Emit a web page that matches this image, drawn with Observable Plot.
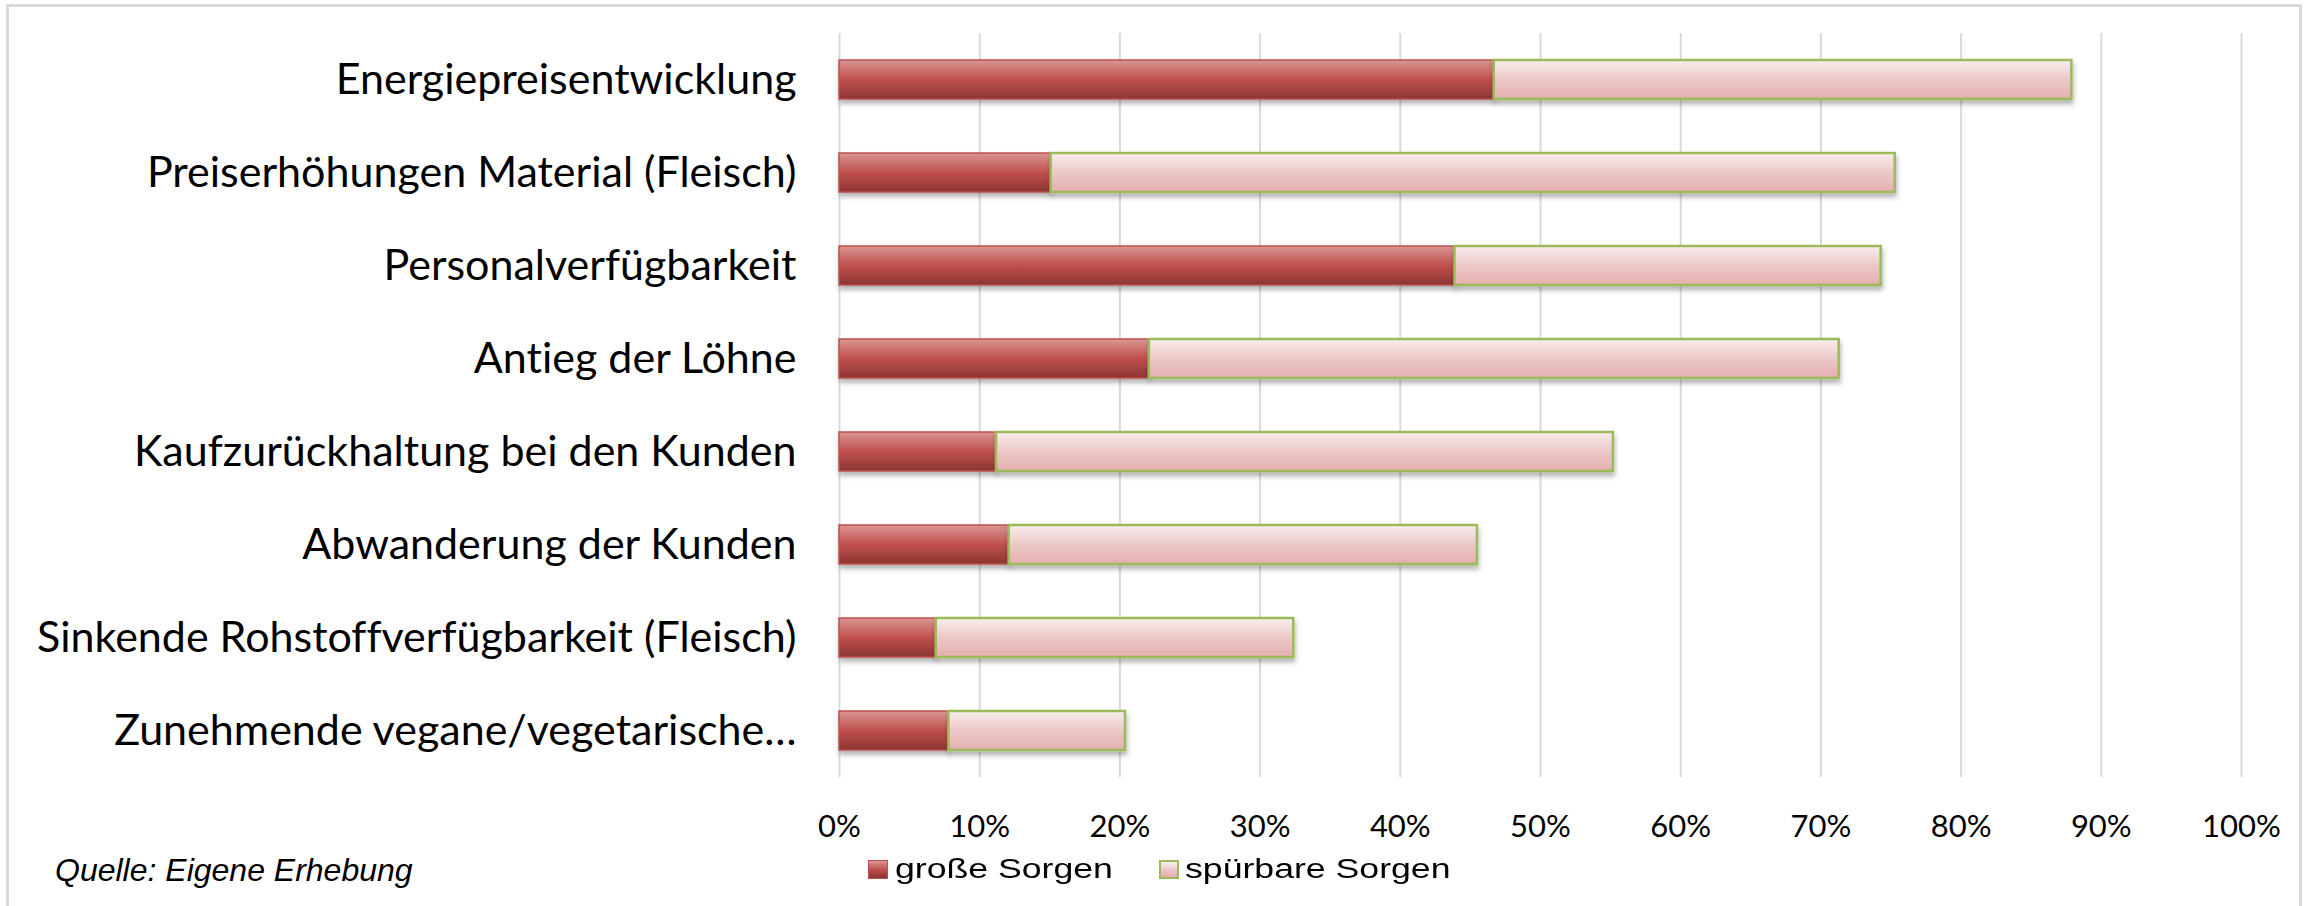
<!DOCTYPE html>
<html>
<head>
<meta charset="utf-8">
<script src="https://cdn.jsdelivr.net/npm/d3@7"></script>
<script src="https://cdn.jsdelivr.net/npm/@observablehq/plot@0.6"></script>
<style>
  body { margin: 0; background: #fff; }
  #wrap { position: relative; width: 2310px; height: 906px; overflow: hidden; background: #fff; }
  #frame { position: absolute; left: 6px; top: 4px; width: 2296px; height: 930px; border: 3px solid #d9d9d9; box-sizing: border-box; }
  #chart { position: absolute; left: 0; top: 0; }
  #chart svg { font-variant-ligatures: none; }
  .legend-item { position: absolute; top: 852px; font-family: "Liberation Sans", Arial, sans-serif; font-size: 27px; line-height: 34px; color: #000; white-space: nowrap; transform-origin: 0 50%; transform: scaleX(1.32); }
  .swatch { position: absolute; top: 860px; width: 20px; height: 19px; box-sizing: border-box; }
  #sw1 { left: 868px; background: linear-gradient(#d99694, #c0504d 50%, #8a3533); border: 1.5px solid #c0504d; }
  #sw2 { left: 1159px; background: linear-gradient(#f9eeee, #ecc8c8 50%, #e4afae); border: 2.5px solid #9bbb59; }
  #caption { position: absolute; left: 55px; top: 851px; font-family: "Liberation Sans", Arial, sans-serif; font-style: italic; font-size: 32px; line-height: 38px; color: #000; white-space: nowrap; }
</style>
</head>
<body>
<div id="wrap">
  <div id="frame"></div>
  <div id="chart"></div>
  <div class="swatch" id="sw1"></div>
  <div class="legend-item" id="lg1" style="left:895px"></div>
  <div class="swatch" id="sw2"></div>
  <div class="legend-item" id="lg2" style="left:1185px"></div>
  <div id="caption"></div>
</div>
<script>
const categories = [
  "Energiepreisentwicklung",
  "Preiserhöhungen Material (Fleisch)",
  "Personalverfügbarkeit",
  "Antieg der Löhne",
  "Kaufzurückhaltung bei den Kunden",
  "Abwanderung der Kunden",
  "Sinkende Rohstoffverfügbarkeit (Fleisch)",
  "Zunehmende vegane/vegetarische…"
];
const grosseSorgen    = [46.7, 15.1, 43.9, 22.1, 11.2, 12.1, 6.9, 7.8];
const spuerbareSorgen = [41.2, 60.2, 30.4, 49.2, 44.0, 33.4, 25.5, 12.6];
const seriesNames = ["große Sorgen", "spürbare Sorgen"];
const xTicks = [0, 10, 20, 30, 40, 50, 60, 70, 80, 90, 100];
const captionText = "Quelle: Eigene Erhebung";

const rows = categories.map((c, i) => ({cat: c, g: grosseSorgen[i], s: spuerbareSorgen[i]}));

const svg = Plot.plot({
  width: 2310,
  height: 850,
  marginLeft: 839,
  marginRight: 69,
  marginTop: 33,
  marginBottom: 73,
  style: {background: "transparent", color: "#000"},
  x: {domain: [0, 100], label: null},
  y: {domain: categories, paddingInner: 0.58, paddingOuter: 0.284, label: null},
  marks: [
    Plot.gridX(xTicks, {stroke: "#d9d9d9", strokeOpacity: 1, strokeWidth: 2}),
    Plot.barX(rows, {y: "cat", x1: 0, x2: "g", fill: "url(#gradRed)", stroke: "#c0504d", strokeWidth: 1.5}),
    Plot.barX(rows, {y: "cat", x1: "g", x2: d => d.g + d.s, fill: "url(#gradPink)", stroke: "#9bbb59", strokeWidth: 2.5}),
    Plot.axisX(xTicks, {anchor: "bottom", tickSize: 0, tickPadding: 37, tickFormat: d => d + "%", fontSize: 31, fontFamily: "Lato", label: null}),
    Plot.axisY({anchor: "left", tickSize: 0, tickPadding: 43, fontSize: 43, fontFamily: "Lato", label: null})
  ]
});

const defs = d3.select(svg).insert("defs", ":first-child");
const gr = defs.append("linearGradient").attr("id", "gradRed").attr("x1", 0).attr("y1", 0).attr("x2", 0).attr("y2", 1);
gr.append("stop").attr("offset", "0").attr("stop-color", "#d99694");
gr.append("stop").attr("offset", "0.5").attr("stop-color", "#c0504d");
gr.append("stop").attr("offset", "1").attr("stop-color", "#8a3533");
const gp = defs.append("linearGradient").attr("id", "gradPink").attr("x1", 0).attr("y1", 0).attr("x2", 0).attr("y2", 1);
gp.append("stop").attr("offset", "0").attr("stop-color", "#f9eeee");
gp.append("stop").attr("offset", "0.5").attr("stop-color", "#ecc8c8");
gp.append("stop").attr("offset", "1").attr("stop-color", "#e4afae");
const f = defs.append("filter").attr("id", "shadow").attr("x", "-5%").attr("y", "-40%").attr("width", "110%").attr("height", "200%");
f.append("feDropShadow").attr("dx", 1).attr("dy", 4).attr("stdDeviation", 2.5).attr("flood-color", "#000").attr("flood-opacity", 0.3);
d3.select(svg).selectAll('g[aria-label="bar"]').attr("filter", "url(#shadow)");

document.getElementById("chart").appendChild(svg);
document.getElementById("lg1").textContent = seriesNames[0];
document.getElementById("lg2").textContent = seriesNames[1];
document.getElementById("caption").textContent = captionText;
</script>
</body>
</html>
